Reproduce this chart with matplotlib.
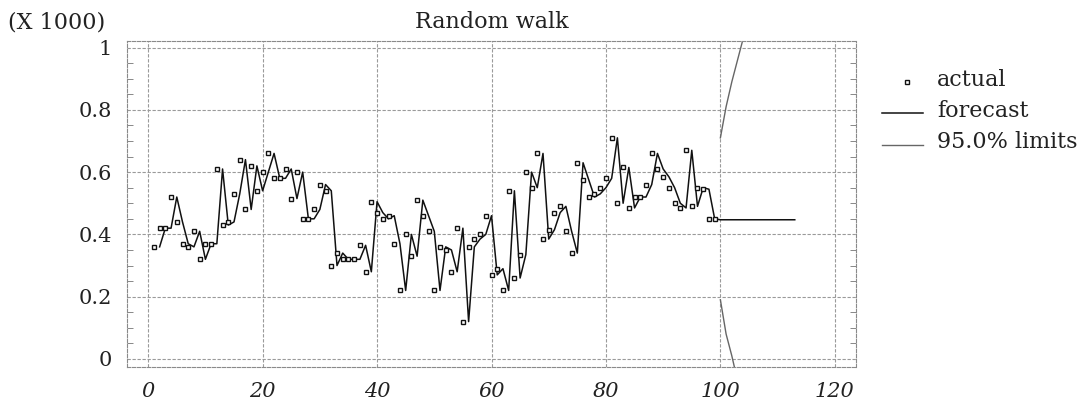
import matplotlib
matplotlib.use("Agg")
import matplotlib.pyplot as plt
from matplotlib.lines import Line2D
import numpy as np

# ---- data (values in thousands) ----
t_actual = list(range(1, 100))
actual = [0.36, 0.42, 0.42, 0.52, 0.44, 0.37, 0.36, 0.41, 0.32, 0.37,
          0.37, 0.61, 0.43, 0.44, 0.53, 0.64, 0.48, 0.62, 0.54, 0.60,
          0.66, 0.58, 0.58, 0.61, 0.515, 0.60, 0.45, 0.45, 0.48, 0.56,
          0.54, 0.30, 0.34, 0.32, 0.32, 0.32, 0.365, 0.28, 0.505, 0.47,
          0.45, 0.46, 0.37, 0.22, 0.40, 0.33, 0.51, 0.46, 0.41, 0.22,
          0.36, 0.35, 0.28, 0.42, 0.12, 0.36, 0.385, 0.40, 0.46, 0.27,
          0.29, 0.22, 0.54, 0.26, 0.335, 0.60, 0.55, 0.66, 0.385, 0.415,
          0.47, 0.49, 0.41, 0.34, 0.63, 0.575, 0.52, 0.53, 0.55, 0.58,
          0.71, 0.50, 0.615, 0.485, 0.52, 0.52, 0.56, 0.66, 0.61, 0.585,
          0.55, 0.50, 0.485, 0.67, 0.49, 0.55, 0.545, 0.45, 0.45]

# future forecast (flat) and 95% limits
t_future = list(range(100, 114))
fc_future = [0.447] * 14
t_limits = [100, 101, 102, 103, 104, 105]
upper = [0.71, 0.81, 0.89, 0.96, 1.03, 1.08]
lower = [0.19, 0.08, 0.01, -0.07, -0.13, -0.19]

# one-step-ahead forecast of a random walk = previous actual value
t_fc = t_actual[1:] + t_future
fc = actual[:-1] + fc_future

xticks = [0, 20, 40, 60, 80, 100, 120]
yticks = [0, 0.2, 0.4, 0.6, 0.8, 1]
yticklabels = ["0", "0.2", "0.4", "0.6", "0.8", "1"]

plt.rcParams['font.family'] = ['DejaVu Serif']

W, H = 1092, 407
fig = plt.figure(figsize=(W / 100, H / 100), dpi=100)
ax = fig.add_axes([127 / W, 1 - 367 / H, (856 - 127) / W, (367 - 41) / H])

ax.set_xlim(-3.7, 123.7)
ax.set_ylim(-0.0257, 1.0209)

grid_kw = dict(color="#9a9a9a", linewidth=0.8, linestyle=(0, (3, 1.5)))
for xv in xticks:
    ax.axvline(xv, zorder=0, **grid_kw)
for yv in yticks:
    ax.axhline(yv, zorder=0, **grid_kw)

ax.plot(t_fc, fc, color="#111111", linewidth=1.1, zorder=3)
ax.plot(t_limits, upper, color="#666666", linewidth=1.0, zorder=2)
ax.plot(t_limits, lower, color="#666666", linewidth=1.0, zorder=2)
ax.plot(t_actual, actual, linestyle="none", marker="s", markersize=3.2,
        markerfacecolor="white", markeredgecolor="#111111", markeredgewidth=1.0,
        zorder=4)

for s in ax.spines.values():
    s.set_color("#8a8a8a")
    s.set_linestyle((0, (3, 1.5)))
    s.set_linewidth(0.8)

ax.set_xticks(xticks)
ax.set_xticklabels([str(v) for v in xticks], fontsize=15, style="italic")
ax.set_yticks(yticks)
ax.set_yticklabels(yticklabels, fontsize=15)
ax.set_yticks(np.arange(0, 1.0001, 0.05), minor=True)
ax.tick_params(axis="x", which="major", length=0, pad=11, colors="#222222")
ax.tick_params(axis="y", which="major", length=0, pad=11, colors="#222222")
ax.tick_params(axis="y", which="minor", direction="in", length=4, width=0.7,
               color="#888888", left=True, right=True)
ax.tick_params(axis="y", which="major", right=False)

ax.text(0.5, 1.025, "Random walk", transform=ax.transAxes, ha="center",
        va="bottom", fontsize=16, color="#222222")
fig.text(8 / W, 1 - 22 / H, "(X 1000)", ha="left", va="center", fontsize=16,
         color="#222222")

# legend drawn in figure pixel coordinates
def fx(px):
    return px / W

def fy(py):
    return 1 - py / H

fig.add_artist(Line2D([fx(907)], [fy(82)], marker="s", markersize=3.2,
                      markerfacecolor="white", markeredgecolor="#111111",
                      markeredgewidth=1.0, linestyle="none"))
fig.add_artist(Line2D([fx(882), fx(923)], [fy(113), fy(113)], color="#111111",
                      linewidth=1.1))
fig.add_artist(Line2D([fx(882), fx(923)], [fy(145), fy(145)], color="#666666",
                      linewidth=1.0))
fig.text(fx(937), fy(80), "actual", ha="left", va="center", fontsize=16, color="#222222")
fig.text(fx(937), fy(111), "forecast", ha="left", va="center", fontsize=16, color="#222222")
fig.text(fx(937), fy(142), "95.0% limits", ha="left", va="center", fontsize=16, color="#222222")

fig.savefig("out.png", dpi=100, facecolor="white")
